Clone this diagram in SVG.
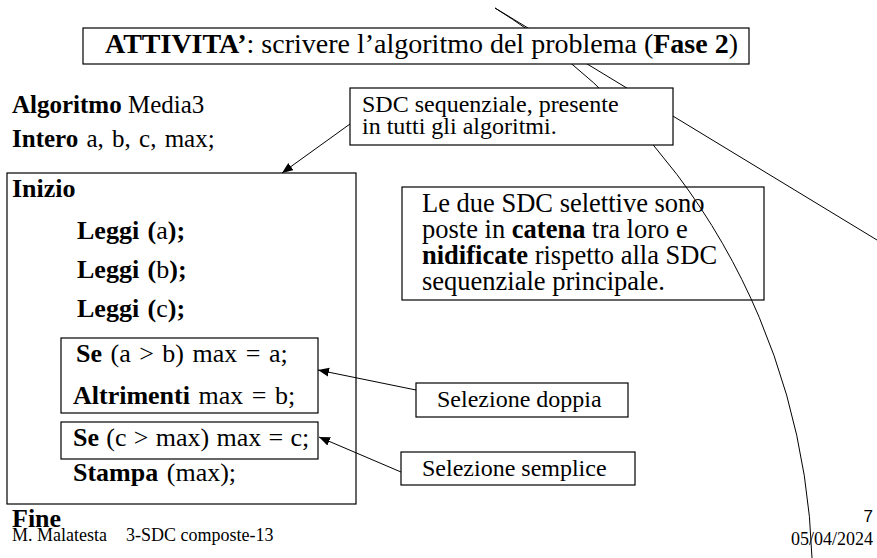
<svg xmlns="http://www.w3.org/2000/svg" width="877" height="558" viewBox="0 0 877 558">
<defs>
<style>
.t{font-family:"Liberation Serif","Times New Roman",serif;fill:#000}
.b{font-weight:bold}
.box{fill:none;stroke:#000;stroke-width:1.2}
.wbox{fill:#fff;stroke:#000;stroke-width:1.2}
.ln{fill:none;stroke:#000;stroke-width:1}
.code{font-size:26px;word-spacing:2px}
</style>
<marker id="ah" markerUnits="userSpaceOnUse" markerWidth="12" markerHeight="10" refX="11" refY="4.5" orient="auto">
<path d="M0,0 L11,4.5 L0,9 z" fill="#000"/>
</marker>
</defs>
<rect width="877" height="558" fill="#fff"/>
<g id="strays">
<path class="ln" d="M495,8 A673,673 0 0 1 812,558"/>
<path class="ln" d="M495,8 L877,240"/>
</g>
<g id="title">
<rect class="wbox" x="83" y="28" width="666" height="36"/>
<text class="t" x="105" y="53" font-size="28"><tspan class="b">ATTIVITA’</tspan>: scrivere l’algoritmo del problema (<tspan class="b">Fase 2</tspan>)</text>
</g>
<g id="header">
<text class="t" x="12" y="113" font-size="25"><tspan class="b">Algoritmo</tspan> Media3</text>
<text class="t" x="12" y="147" font-size="25" word-spacing="2"><tspan class="b">Intero</tspan> a, b, c, max;</text>
</g>
<g id="main">
<rect class="box" x="7" y="173" width="349" height="331"/>
<text class="t b" x="12" y="197" font-size="26">Inizio</text>
<text class="t code" x="77" y="239"><tspan class="b">Leggi (</tspan>a<tspan class="b">);</tspan></text>
<text class="t code" x="77" y="278"><tspan class="b">Leggi (</tspan>b<tspan class="b">);</tspan></text>
<text class="t code" x="77" y="317"><tspan class="b">Leggi (</tspan>c<tspan class="b">);</tspan></text>
<text class="t code" x="73" y="481"><tspan class="b">Stampa</tspan> (max);</text>
</g>
<g id="sel1">
<rect class="box" x="61" y="338" width="257" height="75"/>
<text class="t code" x="76" y="362"><tspan class="b">Se</tspan> (a &gt; b) max = a;</text>
<text class="t code" x="73" y="404"><tspan class="b">Altrimenti</tspan> max = b;</text>
</g>
<g id="sel2">
<rect class="box" x="61" y="422" width="257" height="37"/>
<text class="t code" x="73" y="446" style="word-spacing:0.8px"><tspan class="b">Se</tspan> (c &gt; max) max = c;</text>
</g>
<g id="fine">
<text class="t b" x="12" y="527" font-size="26">Fine</text>
</g>
<g id="sdc">
<rect class="wbox" x="350" y="88" width="323" height="57"/>
<text class="t" x="362" y="112" font-size="24">SDC sequenziale, presente</text>
<text class="t" x="362" y="134" font-size="24">in tutti gli algoritmi.</text>
</g>
<g id="note">
<rect class="box" x="402" y="187" width="362" height="113"/>
<text class="t" x="422" y="212" font-size="26.5">Le due SDC selettive sono</text>
<text class="t" x="422" y="238" font-size="26.5">poste in <tspan class="b">catena</tspan> tra loro e</text>
<text class="t" x="422" y="264" font-size="26.5"><tspan class="b">nidificate</tspan> rispetto alla SDC</text>
<text class="t" x="422" y="290" font-size="26.5">sequenziale principale.</text>
</g>
<g id="doppia">
<rect class="box" x="416" y="383" width="212" height="34"/>
<text class="t" x="437" y="407" font-size="24">Selezione doppia</text>
</g>
<g id="semplice">
<rect class="box" x="401" y="452" width="234" height="33"/>
<text class="t" x="422" y="476" font-size="24">Selezione semplice</text>
</g>
<g id="connectors">
<line class="ln" x1="350" y1="124" x2="282" y2="173" marker-end="url(#ah)"/>
<line class="ln" x1="416" y1="390" x2="318" y2="370" marker-end="url(#ah)"/>
<line class="ln" x1="401" y1="472" x2="319" y2="437" marker-end="url(#ah)"/>
</g>
<g id="footer">
<text class="t" x="12" y="541" font-size="18">M. Malatesta<tspan x="126">3-SDC composte-13</tspan></text>
<text x="873" y="522" font-size="17" text-anchor="end" font-family="Liberation Sans, Arial, sans-serif">7</text>
<text class="t" x="873" y="545" font-size="18" text-anchor="end">05/04/2024</text>
</g>
</svg>
